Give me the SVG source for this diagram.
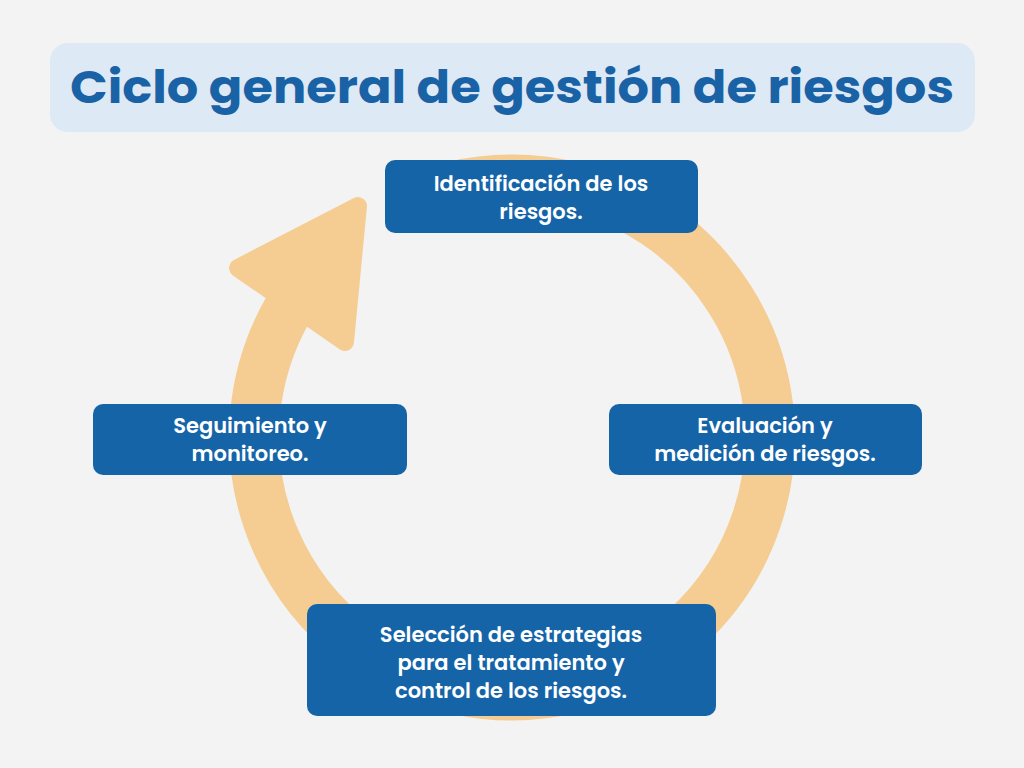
<svg xmlns="http://www.w3.org/2000/svg" width="1024" height="768" viewBox="0 0 1024 768">
<style>
.box{fill:#1664A8}
.t{font-family:Poppins,"Open Sans","Liberation Sans",sans-serif;font-weight:600;font-size:21px;fill:#fff;text-anchor:middle}
</style>
<rect width="1024" height="768" fill="#F3F3F3"/>
<g id="title">
<rect x="50" y="43" width="925" height="89" rx="18" fill="#DDE9F4"/>
<text x="512" y="103" text-anchor="middle" font-family="Poppins,'Open Sans','Liberation Sans',sans-serif" font-weight="700" font-size="46" fill="#1A62A6" textLength="884" lengthAdjust="spacingAndGlyphs">Ciclo general de gestión de riesgos</text>
</g>
<g id="connectors">
<path d="M290 306 A258 258 0 1 0 400 205" fill="none" stroke="#F5CD92" stroke-width="50"/>
<polygon points="238,268 358,206 345,342" fill="#F5CD92" stroke="#F5CD92" stroke-width="18" stroke-linejoin="round"/>
</g>
<g id="n1"><rect class="box" x="385" y="160" width="313" height="73" rx="10"/>
<text class="t" x="541" y="191">Identificación de los</text><text class="t" x="541" y="219">riesgos.</text></g>
<g id="n2"><rect class="box" x="609" y="404" width="313" height="71" rx="10"/>
<text class="t" x="765" y="433">Evaluación y</text><text class="t" x="765" y="461">medición de riesgos.</text></g>
<g id="n3"><rect class="box" x="307" y="604" width="409" height="112" rx="10"/>
<text class="t" x="511" y="642">Selección de estrategias</text><text class="t" x="511" y="670">para el tratamiento y</text><text class="t" x="511" y="698">control de los riesgos.</text></g>
<g id="n4"><rect class="box" x="93" y="404" width="314" height="71" rx="10"/>
<text class="t" x="250" y="433">Seguimiento y</text><text class="t" x="250" y="461">monitoreo.</text></g>
</svg>
